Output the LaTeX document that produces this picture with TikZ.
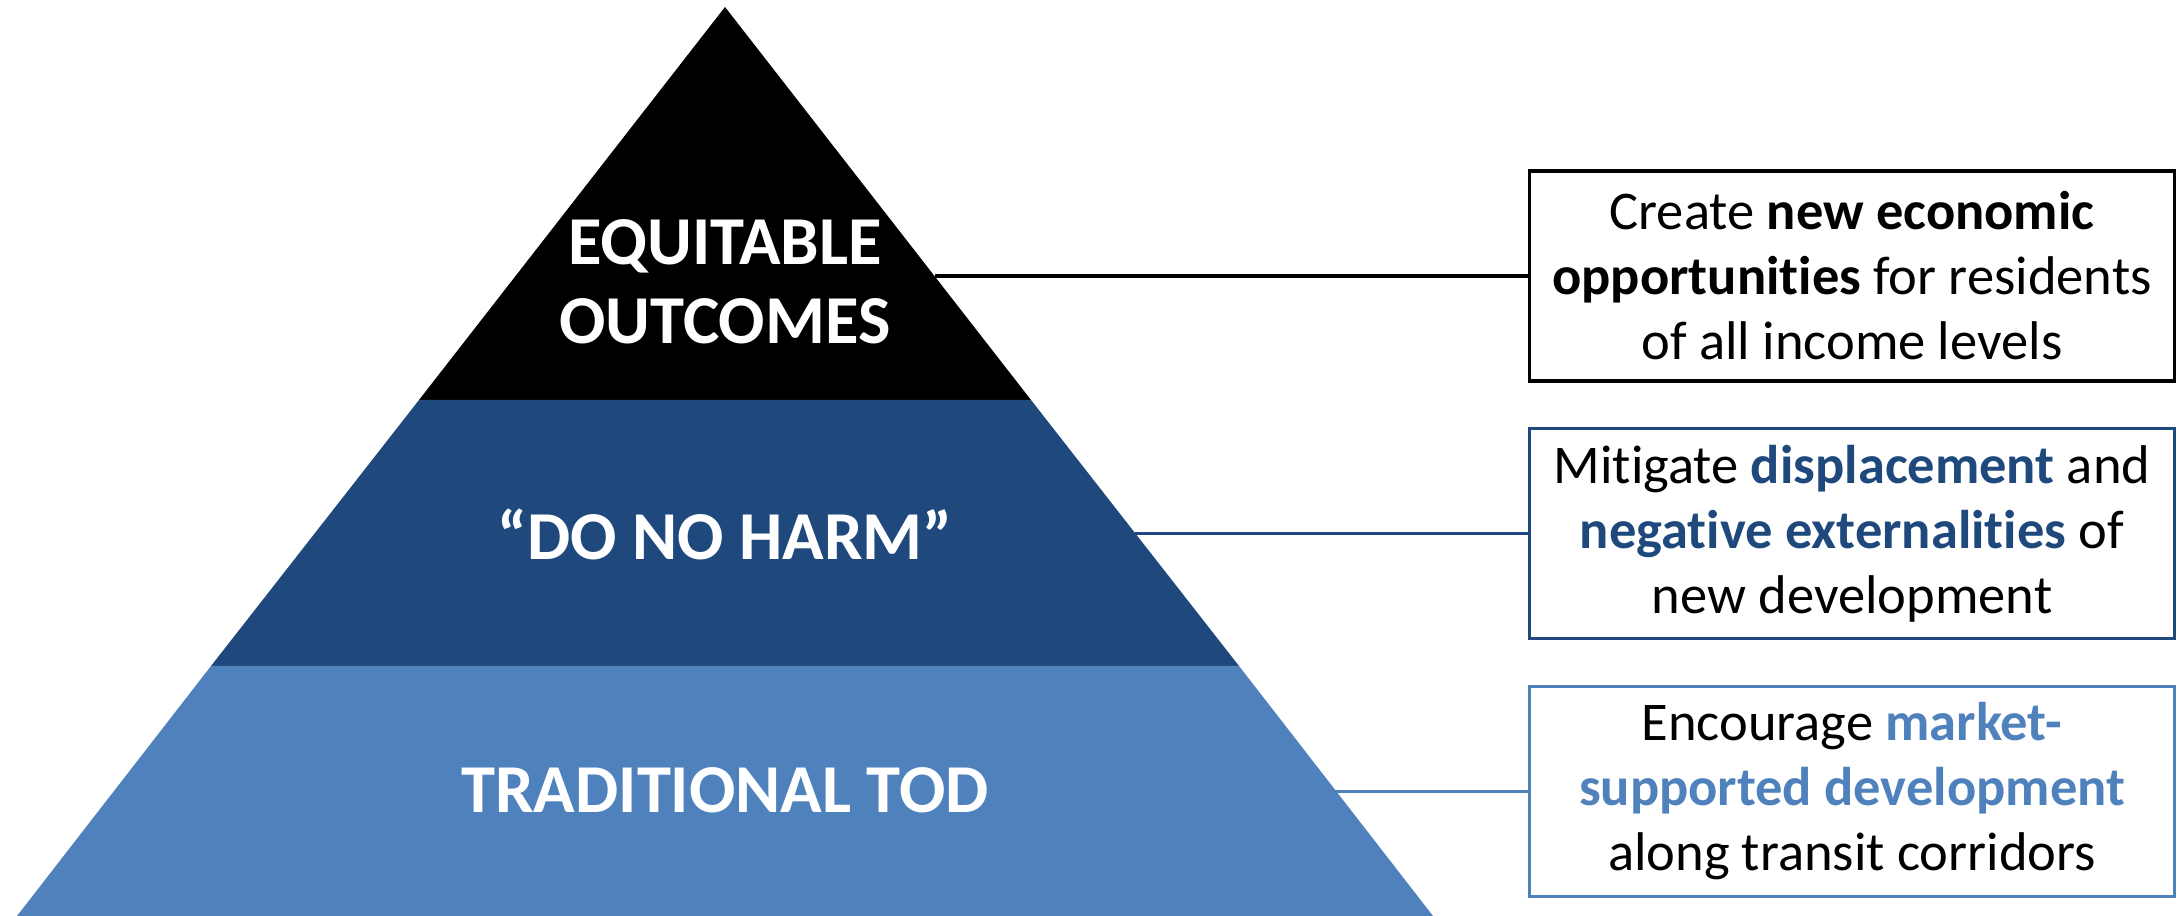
\documentclass[tikz,border=0pt]{standalone}
\usepackage{fontspec}
\setmainfont[Ligatures=NoCommon]{Carlito}
\usetikzlibrary{positioning}
\definecolor{tiernavy}{HTML}{1F497D}
\definecolor{tiersky}{HTML}{4F81BD}

\begin{document}
\begin{tikzpicture}[x=0.01cm, y=-0.01cm,
    tierlabel/.style={text=white, font=\fontsize{19.5}{22.5}\selectfont\bfseries, align=center},
    goalbox/.style={draw, line width=1pt, minimum width=6.45cm, minimum height=2.10cm,
        inner sep=0pt, align=center, font=\fontsize{15.5}{18.5}\selectfont},
    link/.style={line width=1pt}]
\useasboundingbox (0,0) rectangle (2182,916);
% pyramid tiers
\coordinate (apex) at (725,7);
\fill[black] (apex) -- (1031,400) -- (419,400) -- cycle;
\fill[tiernavy] (419,400) -- (1031,400) -- (1239,666) -- (211,666) -- cycle;
\fill[tiersky] (211,666) -- (1239,666) -- (1433,916) -- (17,916) -- cycle;
\node[tierlabel] (equit) at (725,282) {EQUITABLE\\OUTCOMES};
\node[tierlabel] (noharm) at (725,534) {“DO NO HARM”};
\node[tierlabel] (tod) at (725,790) {TRADITIONAL TOD};
% goals
\node[goalbox, draw=black] (goalA) at (1852,276)
    {Create \textbf{new economic}\\\textbf{opportunities} for residents\\of all income levels};
\node[goalbox, draw=tiernavy, below=0.44cm of goalA] (goalB)
    {Mitigate \textcolor{tiernavy}{\textbf{displacement}} and\\\textcolor{tiernavy}{\textbf{negative externalities}} of\\new development};
\node[goalbox, draw=tiersky, below=0.44cm of goalB] (goalC)
    {Encourage \textcolor{tiersky}{\textbf{market-}}\\\textcolor{tiersky}{\textbf{supported development}}\\along transit corridors};
\coordinate (edgeA) at (935,276);
\coordinate (edgeB) at (1135,533);
\coordinate (edgeC) at (1335,790);
\draw[link, black] (goalA.west -| edgeA) -- (goalA.west);
\draw[link, tiernavy] (goalB.west -| edgeB) -- (goalB.west);
\draw[link, tiersky] (goalC.west -| edgeC) -- (goalC.west);
\end{tikzpicture}
\end{document}
